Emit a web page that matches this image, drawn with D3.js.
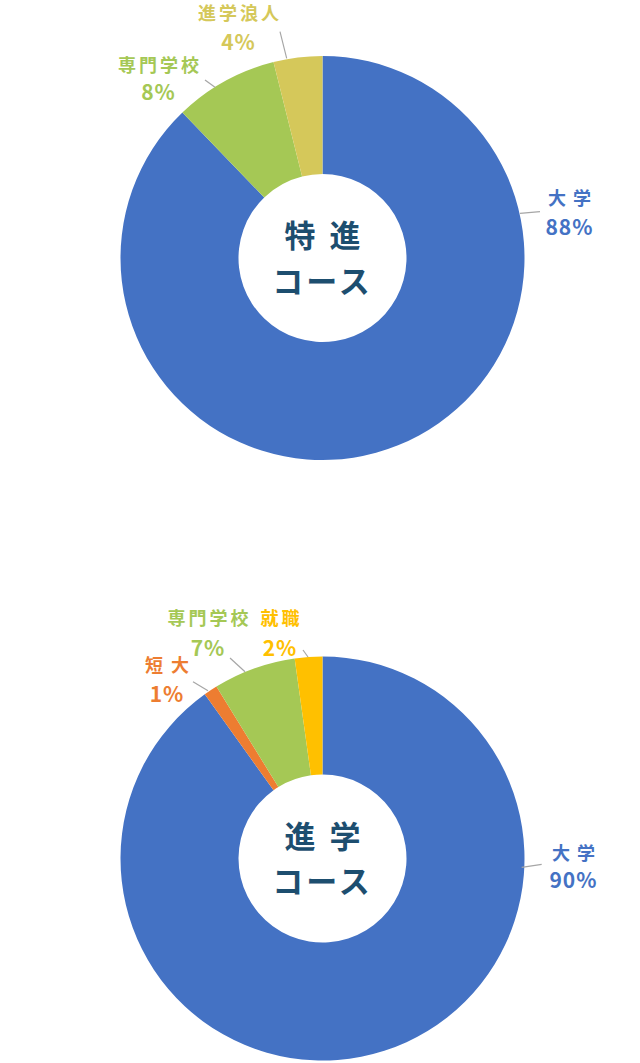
<!DOCTYPE html>
<html lang="ja">
  <head>
    <meta charset="utf-8">
    <title>進路状況</title>
    <script src="https://cdn.jsdelivr.net/npm/d3@7"></script>
    <style>
      body { margin: 0; background: #fff; }
      svg text { font-family: "Noto Sans CJK JP", "Noto Sans", sans-serif; font-weight: 700; }
    </style>
  </head>
  <body>
    <div id="chart"></div>
    <script>
      // 特進コース
      const tokushinCategories = ["大学", "専門学校", "進学浪人"];
      const tokushinValues = [87.8, 8.3, 3.9];
      const tokushinLabels = ["88%", "8%", "4%"];

      // 進学コース
      const shingakuCategories = ["大学", "短大", "専門学校", "就職"];
      const shingakuValues = [90.1, 1.1, 6.6, 2.2];
      const shingakuLabels = ["90%", "1%", "7%", "2%"];

      const colors = {
        "大学": "#4472c4",
        "専門学校": "#a5c855",
        "進学浪人": "#d5c85a",
        "短大": "#ed7d31",
        "就職": "#ffc000"
      };

      const width = 640, height = 1063;
      const outerR = 202, innerR = 84;

      const svg = d3.select("#chart")
        .append("svg")
          .attr("width", width)
          .attr("height", height);

      // label layout, offsets from the chart centre: text [x, y1, y2], leader [x1, y1, x2, y2]
      const tokushinLayout = [
        {text: [247, -59, -31], line: [197.5, -44.7, 217.5, -46.3], ls: 7},
        {text: [-164, -192.5, -165.5], line: [-117.5, -178, -107.5, -170.7], ls: 3},
        {text: [-84, -244, -216], line: [-42.5, -226.3, -35.8, -199.7], ls: 3}
      ];
      const shingakuLayout = [
        {text: [251, -4.5, 22], line: [199.2, 8.8, 219.2, 5.8], ls: 7},
        {text: [-155.5, -192.5, -164.5], line: [-129.5, -176.8, -114.5, -167.8], ls: 8},
        {text: [-114.5, -239.5, -210], line: [-92.5, -200.5, -77.5, -186.8], ls: 3},
        {text: [-42.5, -239.5, -210], line: [-19.5, -208.5, -14.5, -201.5], ls: 3}
      ];

      function drawDonut(cx, cy, categories, values, labels, layout, title) {
        const g = svg.append("g").attr("transform", "translate(" + cx + "," + cy + ")");
        const data = categories.map((c, i) => ({cat: c, value: values[i], label: labels[i]}));

        const pie = d3.pie().sort(null).value(d => d.value);
        const arc = d3.arc().innerRadius(innerR).outerRadius(outerR);

        g.selectAll("path.slice")
          .data(pie(data))
          .enter().append("path")
            .attr("class", "slice")
            .attr("d", arc)
            .attr("fill", d => colors[d.data.cat]);

        // leader lines
        g.selectAll("line.leader")
          .data(data)
          .enter().append("line")
            .attr("class", "leader")
            .attr("x1", (d, i) => layout[i].line[0])
            .attr("y1", (d, i) => layout[i].line[1])
            .attr("x2", (d, i) => layout[i].line[2])
            .attr("y2", (d, i) => layout[i].line[3])
            .attr("stroke", "#a6a6a6")
            .attr("stroke-width", 1.2);

        const lab = g.selectAll("g.lab")
          .data(data)
          .enter().append("g")
            .attr("class", "lab")
            .attr("fill", d => colors[d.cat]);

        lab.append("text")
          .attr("x", (d, i) => layout[i].text[0] + layout[i].ls / 2)
          .attr("y", (d, i) => layout[i].text[1])
          .attr("dy", "0.36em")
          .attr("text-anchor", "middle")
          .attr("font-size", 18)
          .style("letter-spacing", (d, i) => layout[i].ls + "px")
          .text(d => d.cat);

        lab.append("text")
          .attr("x", (d, i) => layout[i].text[0])
          .attr("y", (d, i) => layout[i].text[2])
          .attr("dy", "0.36em")
          .attr("text-anchor", "middle")
          .attr("font-size", 21)
          .style("letter-spacing", "1px")
          .text(d => d.label);

        // centre title
        g.append("text")
          .attr("x", 7)
          .attr("y", -22)
          .attr("dy", "0.36em")
          .attr("text-anchor", "middle")
          .attr("font-size", 31)
          .attr("fill", "#1d4e6f")
          .style("letter-spacing", "14px")
          .text(title[0]);
        g.append("text")
          .attr("x", 0)
          .attr("y", 23.5)
          .attr("dy", "0.36em")
          .attr("text-anchor", "middle")
          .attr("font-size", 31)
          .attr("fill", "#1d4e6f")
          .style("letter-spacing", "3px")
          .text(title[1]);
      }

      drawDonut(322.5, 258, tokushinCategories, tokushinValues, tokushinLabels, tokushinLayout, ["特進", "コース"]);
      drawDonut(322.5, 858.5, shingakuCategories, shingakuValues, shingakuLabels, shingakuLayout, ["進学", "コース"]);
    </script>
  </body>
</html>
